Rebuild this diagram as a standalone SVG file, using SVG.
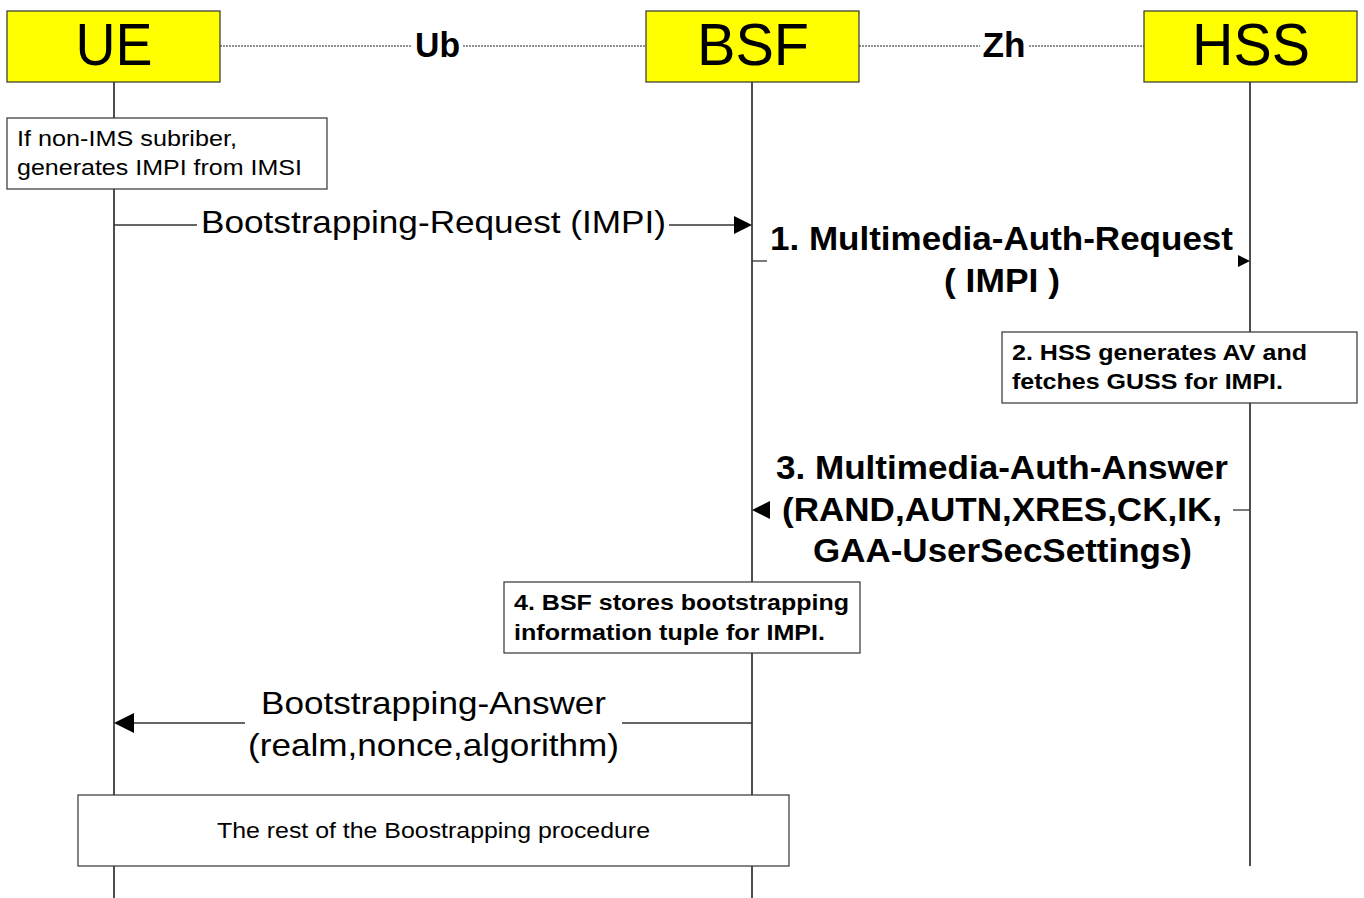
<svg xmlns="http://www.w3.org/2000/svg" width="1364" height="898" viewBox="0 0 1364 898">
<defs>
<style>
.ent{fill:#ffff00;stroke:#333;stroke-width:1.2}
.big{font-family:"Liberation Sans",Arial,sans-serif;font-size:60px;fill:#000;text-anchor:middle}
.if{font-family:"Liberation Sans",Arial,sans-serif;font-size:35px;font-weight:bold;fill:#000;text-anchor:middle}
.dot{stroke:#222;stroke-width:1;stroke-dasharray:2 1;fill:none}
.life{stroke:#222;stroke-width:1.6;fill:none}
.msg{stroke:#333;stroke-width:1.3;fill:none}
.note{fill:#fff;stroke:#333;stroke-width:1.2}
.nt{font-family:"Liberation Sans",Arial,sans-serif;font-size:22px;fill:#000}
.ntb{font-family:"Liberation Sans",Arial,sans-serif;font-size:22px;font-weight:bold;fill:#000}
.ml{font-family:"Liberation Sans",Arial,sans-serif;font-size:32px;fill:#000;text-anchor:middle}
.mb{font-family:"Liberation Sans",Arial,sans-serif;font-size:33px;font-weight:bold;fill:#000;text-anchor:middle}
.ah{fill:#000}
</style>
</defs>
<rect width="1364" height="898" fill="#fff"/>
<g id="lifelines">
<line class="life" x1="114" y1="82" x2="114" y2="898"/>
<line class="life" x1="752" y1="82" x2="752" y2="898"/>
<line class="life" x1="1250" y1="82" x2="1250" y2="866"/>
</g>
<g id="interfaces">
<line class="dot" x1="220" y1="46" x2="411" y2="46"/>
<line class="dot" x1="463" y1="46" x2="646" y2="46"/>
<text class="if" x="437.5" y="57" textLength="45" lengthAdjust="spacingAndGlyphs">Ub</text>
<line class="dot" x1="859" y1="46" x2="980" y2="46"/>
<line class="dot" x1="1029" y1="46" x2="1144" y2="46"/>
<text class="if" x="1004" y="57" textLength="43" lengthAdjust="spacingAndGlyphs">Zh</text>
</g>
<g id="UE">
<rect class="ent" x="7" y="11" width="213" height="71"/>
<text class="big" x="114" y="65" textLength="77" lengthAdjust="spacingAndGlyphs">UE</text>
</g>
<g id="BSF">
<rect class="ent" x="646" y="11" width="213" height="71"/>
<text class="big" x="753" y="65" textLength="112" lengthAdjust="spacingAndGlyphs">BSF</text>
</g>
<g id="HSS">
<rect class="ent" x="1144" y="11" width="213" height="71"/>
<text class="big" x="1251" y="65" textLength="118" lengthAdjust="spacingAndGlyphs">HSS</text>
</g>
<g id="note-ue">
<rect class="note" x="7" y="118" width="320" height="71"/>
<text class="nt" x="17" y="146" textLength="220" lengthAdjust="spacingAndGlyphs">If non-IMS subriber,</text>
<text class="nt" x="17" y="175" textLength="285" lengthAdjust="spacingAndGlyphs">generates IMPI from IMSI</text>
</g>
<g id="note-hss">
<rect class="note" x="1002" y="332" width="355" height="71"/>
<text class="ntb" x="1012" y="360" textLength="295" lengthAdjust="spacingAndGlyphs">2. HSS generates AV and</text>
<text class="ntb" x="1012" y="389" textLength="271" lengthAdjust="spacingAndGlyphs">fetches GUSS for IMPI.</text>
</g>
<g id="note-bsf">
<rect class="note" x="504" y="582" width="356" height="71"/>
<text class="ntb" x="514" y="610" textLength="335" lengthAdjust="spacingAndGlyphs">4. BSF stores bootstrapping</text>
<text class="ntb" x="514" y="640" textLength="311" lengthAdjust="spacingAndGlyphs">information tuple for IMPI.</text>
</g>
<g id="rest">
<rect class="note" x="78" y="795" width="711" height="71"/>
<text class="nt" x="433.5" y="838" text-anchor="middle" textLength="433" lengthAdjust="spacingAndGlyphs">The rest of the Boostrapping procedure</text>
</g>
<g id="connectors">
<line class="msg" x1="114" y1="225" x2="197" y2="225"/>
<line class="msg" x1="669" y1="225" x2="740" y2="225"/>
<polygon class="ah" points="752,225 734,216 734,234"/>
<text class="ml" x="433.5" y="233" textLength="465" lengthAdjust="spacingAndGlyphs">Bootstrapping-Request (IMPI)</text>

<line class="msg" x1="752" y1="261" x2="767" y2="261"/>
<polygon class="ah" points="1250,261 1238,255 1238,267"/>
<text class="mb" x="1001.5" y="250" textLength="463" lengthAdjust="spacingAndGlyphs">1. Multimedia-Auth-Request</text>
<text class="mb" x="1002" y="292" textLength="116" lengthAdjust="spacingAndGlyphs">( IMPI )</text>

<line class="msg" x1="1250" y1="510" x2="1233" y2="510"/>
<polygon class="ah" points="752,510 770,501 770,519"/>
<text class="mb" x="1002" y="479" textLength="452" lengthAdjust="spacingAndGlyphs">3. Multimedia-Auth-Answer</text>
<text class="mb" x="1002" y="521" textLength="440" lengthAdjust="spacingAndGlyphs">(RAND,AUTN,XRES,CK,IK,</text>
<text class="mb" x="1002.5" y="562" textLength="379" lengthAdjust="spacingAndGlyphs">GAA-UserSecSettings)</text>

<line class="msg" x1="752" y1="723" x2="622" y2="723"/>
<line class="msg" x1="245" y1="723" x2="128" y2="723"/>
<polygon class="ah" points="114,723 134,713 134,733"/>
<text class="ml" x="433.5" y="714" textLength="345" lengthAdjust="spacingAndGlyphs">Bootstrapping-Answer</text>
<text class="ml" x="433.5" y="756" textLength="371" lengthAdjust="spacingAndGlyphs">(realm,nonce,algorithm)</text>
</g>
</svg>
